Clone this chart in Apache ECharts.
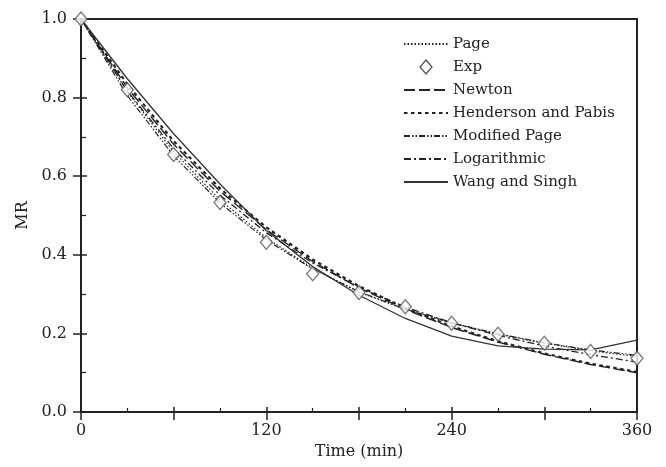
<!DOCTYPE html>
<html>
<head>
<meta charset="utf-8">
<script src="https://cdn.jsdelivr.net/npm/echarts@6/dist/echarts.min.js"></script>
<style>html,body{margin:0;padding:0;background:#fff}#c{width:666px;height:467px}</style>
</head>
<body>
<div id="c"></div>
<script>
const times = [0, 30, 60, 90, 120, 150, 180, 210, 240, 270, 300, 330, 360];
const expMR = [1.0, 0.82, 0.655, 0.533, 0.432, 0.352, 0.304, 0.268, 0.226, 0.198, 0.175, 0.154, 0.137];
const pageMR = [1.0, 0.815, 0.662, 0.540, 0.443, 0.366, 0.305, 0.261, 0.226, 0.198, 0.175, 0.156, 0.141];
const newtonMR = [1.0, 0.825, 0.681, 0.562, 0.464, 0.383, 0.316, 0.261, 0.215, 0.178, 0.147, 0.121, 0.100];
const hendersonMR = [1.0, 0.834, 0.689, 0.569, 0.470, 0.388, 0.320, 0.264, 0.218, 0.180, 0.149, 0.123, 0.102];
const modPageMR = [1.0, 0.805, 0.652, 0.532, 0.438, 0.364, 0.306, 0.262, 0.227, 0.199, 0.176, 0.158, 0.144];
const logMR = [1.0, 0.817, 0.670, 0.552, 0.456, 0.379, 0.317, 0.267, 0.227, 0.195, 0.168, 0.146, 0.127];
const wangMR = [1.0, 0.848, 0.708, 0.580, 0.462, 0.370, 0.297, 0.238, 0.193, 0.168, 0.160, 0.158, 0.183];
const xTicks = [0, 120, 240, 360];
const yTicks = [0.0, 0.2, 0.4, 0.6, 0.8, 1.0];

const pair = arr => times.map((t, i) => [t, arr[i]]);
const FONT = 'DejaVu Serif';
const INK = '#222';

function lineSeries(name, arr, type, width, color) {
  return {
    name, type: 'line', data: pair(arr), symbol: 'none', smooth: false,
    lineStyle: { color: color || INK, width: width, type: type },
    itemStyle: { color: color || INK },
    z: 3
  };
}

const diamondIcon = 'path://M0,7L0.01,7M44,7L43.99,7M22,0L28,7L22,14L16,7Z';

const chart = echarts.init(document.getElementById('c'), null, { renderer: 'canvas' });
chart.setOption({
  animation: false,
  backgroundColor: '#fff',
  grid: { left: 81, right: 29, top: 19, bottom: 55, show: true, borderColor: INK, borderWidth: 2, backgroundColor: 'transparent' },
  legend: {
    orient: 'vertical', left: 403, top: 36, padding: 0,
    itemWidth: 44, itemHeight: 14, itemGap: 7,
    itemStyle: { opacity: 0 },
    textStyle: { fontFamily: FONT, fontSize: 15, color: INK, lineHeight: 16 },
    data: [
      { name: 'Page' },
      { name: 'Exp', icon: diamondIcon, itemStyle: { opacity: 1, color: '#fff', borderColor: '#555', borderWidth: 1.3 } },
      { name: 'Newton' },
      { name: 'Henderson and Pabis' },
      { name: 'Modified Page' },
      { name: 'Logarithmic' },
      { name: 'Wang and Singh' }
    ]
  },
  xAxis: [
    {
      type: 'value', min: 0, max: 360, interval: 60, position: 'bottom',
      name: 'Time (min)', nameLocation: 'middle', nameGap: 29,
      nameTextStyle: { fontFamily: FONT, fontSize: 16, color: INK },
      axisLine: { show: true, onZero: false, lineStyle: { color: INK, width: 2 } },
      axisTick: { show: true, inside: false, length: 8, lineStyle: { color: INK, width: 1.5 } },
      axisLabel: { margin: 11, fontFamily: FONT, fontSize: 16, color: INK,
        formatter: v => (xTicks.indexOf(v) >= 0 ? String(v) : '') },
      splitLine: { show: false }
    },
    {
      type: 'value', min: 0, max: 360, interval: 60, position: 'bottom',
      axisLine: { show: false },
      axisTick: { show: true, inside: true, length: 5, lineStyle: { color: INK, width: 1.5 } },
      minorTick: { show: true, splitNumber: 2, length: 4, lineStyle: { color: INK, width: 1.2 } },
      axisLabel: { show: false }, splitLine: { show: false }
    }
  ],
  yAxis: [
    {
      type: 'value', min: 0, max: 1, interval: 0.2, position: 'left',
      name: 'MR', nameLocation: 'middle', nameGap: 49,
      nameTextStyle: { fontFamily: FONT, fontSize: 16, color: INK },
      axisLine: { show: true, onZero: false, lineStyle: { color: INK, width: 2 } },
      axisTick: { show: true, inside: false, length: 8, lineStyle: { color: INK, width: 1.5 } },
      axisLabel: { margin: 14, fontFamily: FONT, fontSize: 16, color: INK,
        formatter: v => {
          const k = yTicks.findIndex(t => Math.abs(t - v) < 1e-6);
          return k >= 0 ? yTicks[k].toFixed(1) : '';
        } },
      splitLine: { show: false }
    },
    {
      type: 'value', min: 0, max: 1, interval: 0.2, position: 'left',
      axisLine: { show: false },
      axisTick: { show: true, inside: true, length: 6, lineStyle: { color: INK, width: 1.5 } },
      minorTick: { show: true, splitNumber: 2, length: 5, lineStyle: { color: INK, width: 1.2 } },
      axisLabel: { show: false }, splitLine: { show: false }
    }
  ],
  series: [
    lineSeries('Page', pageMR, [1.5, 2], 1.2),
    {
      name: 'Exp', type: 'scatter', data: pair(expMR), symbol: 'diamond', symbolSize: [12, 14],
      itemStyle: { color: '#fff', borderColor: '#555', borderWidth: 1.3 }, z: 5
    },
    lineSeries('Newton', newtonMR, [11, 4], 1.4),
    lineSeries('Henderson and Pabis', hendersonMR, [3.5, 3.5], 2.2),
    lineSeries('Modified Page', modPageMR, [6, 2, 1.5, 2, 1.5, 2], 1.2),
    lineSeries('Logarithmic', logMR, [7, 3, 2, 3], 1.3),
    lineSeries('Wang and Singh', wangMR, 'solid', 1.3, '#333')
  ]
});
</script>
</body>
</html>
